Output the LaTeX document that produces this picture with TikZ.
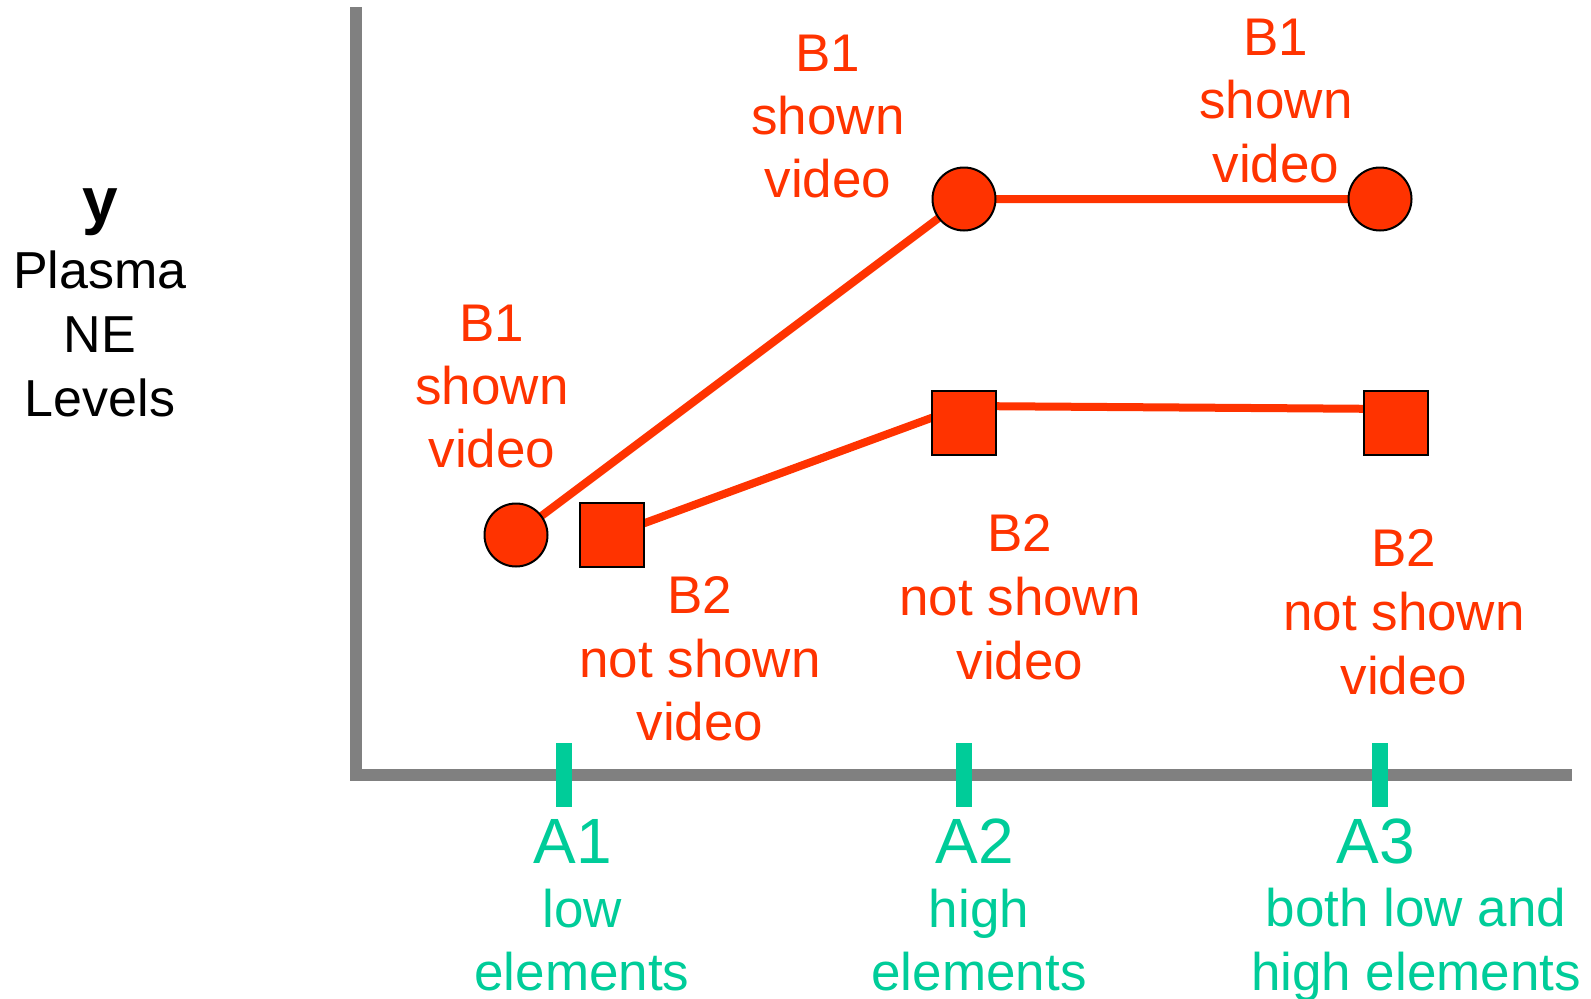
\documentclass[tikz,border=0pt]{standalone}
\usepackage{fontspec}
\setmainfont{Liberation Sans}
\definecolor{redo}{HTML}{FF3300}
\definecolor{tealg}{HTML}{00CC99}
\definecolor{axgray}{HTML}{808080}
\tikzset{
  axisline/.style={draw=axgray, line width=12pt, line join=miter},
  tickmark/.style={draw=tealg, line width=16pt},
  redline/.style={draw=redo, line width=8pt},
  circmark/.style={circle, draw=black, line width=2pt, fill=redo, minimum size=63pt, inner sep=0pt},
  sqmark/.style={rectangle, draw=black, line width=2pt, fill=redo, minimum size=64pt, inner sep=0pt},
  redtxt/.style={anchor=base, inner sep=0pt, text=redo, font=\fontsize{53}{64}\selectfont},
  grntxt/.style={anchor=base, inner sep=0pt, text=tealg, font=\fontsize{53}{64}\selectfont},
  grnbig/.style={anchor=base, inner sep=0pt, text=tealg, font=\fontsize{64}{76}\selectfont},
  blktxt/.style={anchor=base, inner sep=0pt, text=black, font=\fontsize{52}{64}\selectfont},
}
\begin{document}
\begin{tikzpicture}[x=1pt,y=-1pt]
\useasboundingbox (0,0) rectangle (1591,999);
% axes
\coordinate (ytop) at (356,7);
\coordinate (xend) at (1572,775);
\draw[axisline] (ytop) |- (xend);
% ticks
\coordinate (t1a) at (564,743); \coordinate (t1b) at (564,807);
\coordinate (t2a) at (964,743); \coordinate (t2b) at (964,807);
\coordinate (t3a) at (1380,743); \coordinate (t3b) at (1380,807);
\draw[tickmark] (t1a) -- (t1b);
\draw[tickmark] (t2a) -- (t2b);
\draw[tickmark] (t3a) -- (t3b);
% marker positions
\coordinate (p1) at (516,535);
\coordinate (p2) at (964,199);
\coordinate (p3) at (1380,199);
\coordinate (q1) at (612,535);
\coordinate (q2) at (964,423);
\coordinate (q3) at (1396,423);
\coordinate (q2l) at (964,406);
\coordinate (q3l) at (1396,409);
% lines
\draw[redline] (p1) -- (p2) -- (p3);
\draw[redline] (q1) -- (q2l) -- (q3l);
% markers
\node[circmark] (c1) at (p1) {};
\node[circmark] (c2) at (p2) {};
\node[circmark] (c3) at (p3) {};
\node[sqmark] (s1) at (q1) {};
\node[sqmark] (s2) at (q2) {};
\node[sqmark] (s3) at (q3) {};
% y label
\node[blktxt, font=\fontsize{64}{76}\selectfont\bfseries] (ylab) at (100,222) {y};
\node[blktxt] (ylab2) at (100,288) {Plasma};
\node[blktxt] (ylab3) at (100,352) {NE};
\node[blktxt] (ylab4) at (100,416) {Levels};
% B1 labels
\node[redtxt] (b1a1) at (492,341) {B1};
\node[redtxt] (b1a2) at (492,404) {shown};
\node[redtxt] (b1a3) at (492,467) {video};
\node[redtxt] (b1b1) at (828,71) {B1};
\node[redtxt] (b1b2) at (828,134) {shown};
\node[redtxt] (b1b3) at (828,197) {video};
\node[redtxt] (b1c1) at (1276,55) {B1};
\node[redtxt] (b1c2) at (1276,118) {shown};
\node[redtxt] (b1c3) at (1276,182) {video};
% B2 labels
\node[redtxt] (b2a1) at (700,613) {B2};
\node[redtxt] (b2a2) at (700,677) {not shown};
\node[redtxt] (b2a3) at (700,740) {video};
\node[redtxt] (b2b1) at (1020,551) {B2};
\node[redtxt] (b2b2) at (1020,615) {not shown};
\node[redtxt] (b2b3) at (1020,679) {video};
\node[redtxt] (b2c1) at (1404,566) {B2};
\node[redtxt] (b2c2) at (1404,630) {not shown};
\node[redtxt] (b2c3) at (1404,694) {video};
% A labels
\node[grnbig] (a1) at (573,863) {A1};
\node[grntxt] (a1b) at (582,927) {low};
\node[grntxt] (a1c) at (582,990) {elements};
\node[grnbig] (a2) at (975,863) {A2};
\node[grntxt] (a2b) at (979,927) {high};
\node[grntxt] (a2c) at (979,990) {elements};
\node[grnbig] (a3) at (1376,863) {A3};
\node[grntxt] (a3b) at (1416,926) {both low and};
\node[grntxt] (a3c) at (1416,990) {high elements};
\end{tikzpicture}
\end{document}
